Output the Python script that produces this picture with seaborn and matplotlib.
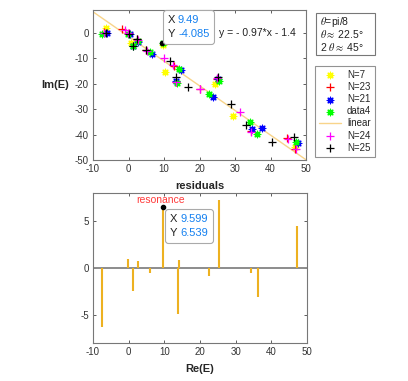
import numpy as np
import matplotlib
matplotlib.use("Agg")
import matplotlib.pyplot as plt
import seaborn as sns
from matplotlib.offsetbox import TextArea, HPacker, VPacker, AnnotationBbox
from matplotlib.patches import Rectangle

# Eigenvalue scatter (Re, Im) per series
n7_x = [-6.3, 0.8, 9.7, 10.3, 24.4, 29.4, 46.8]
n7_y = [2.1, -4.0, -4.6, -15.2, -20.1, -32.7, -45.0]

n23_x = [-7.0, -1.8, 0.2, 2.4, 5.0, 12.8, 13.4, 20.0, 25.0, 34.4, 44.6, 47.0]
n23_y = [0.2, 1.5, -0.2, -2.6, -6.8, -12.9, -19.4, -22.0, -18.0, -38.6, -41.4, -45.6]

n21_x = [-6.0, 0.3, 1.4, 2.8, 6.5, 14.8, 13.5, 23.9, 25.3, 34.8, 37.7, 47.8]
n21_y = [-0.2, -0.6, -5.0, -3.4, -8.3, -14.7, -19.0, -25.1, -18.3, -37.9, -37.5, -43.4]

data4_x = [-7.45, -0.1, 1.33, 2.55, 6.0, 9.6, 13.7, 14.1, 22.6, 25.4, 34.3, 36.3, 47.3]
data4_y = [-0.41, -0.35, -5.09, -3.13, -7.71, -4.17, -19.64, -14.24, -24.12, -18.78, -35.17, -39.7, -42.75]

n24_x = [-6.8, -1.0, -0.2, 2.6, 5.3, 10.0, 12.5, 13.3, 20.2, 25.0, 31.3, 34.5, 45.0, 47.1]
n24_y = [0.0, 1.0, 0.0, -2.9, -7.0, -9.8, -12.5, -19.5, -21.9, -17.6, -31.0, -38.8, -41.6, -45.8]

n25_x = [-6.3, 0.0, 1.2, 2.3, 4.8, 11.6, 13.5, 16.9, 25.1, 28.9, 33.0, 40.5, 46.5]
n25_y = [0.0, -0.4, -5.2, -2.5, -6.7, -11.1, -17.4, -21.4, -17.4, -27.8, -36.2, -42.8, -40.8]

# linear fit shown in the chart
fit_slope, fit_icpt = -0.97, -1.4
fit_range = [-10, 50]

# residuals of data4 against the fit
resid_x = data4_x
resid_y = [-6.24, 0.95, -2.4, 0.74, -0.49, 6.539, -4.95, 0.84, -0.8, 7.26, -0.5, -3.09, 4.53]

tip1 = (9.49, -4.085)
tip2 = (9.599, 6.539)

sns.set_style("ticks")
plt.rcParams["font.family"] = ["Liberation Sans", "DejaVu Sans"]
plt.rcParams["mathtext.fontset"] = "stix"
plt.rcParams["axes.unicode_minus"] = False

W, H = 408, 381
fig = plt.figure(figsize=(W / 100, H / 100), dpi=100)
ax1 = fig.add_axes([93 / W, 1 - 160 / H, 213 / W, 150 / H])
ax2 = fig.add_axes([93 / W, 1 - 343 / H, 214 / W, 150 / H])

ast = (8, 2, 0)
series = [
    ("N=7", n7_x, n7_y, "#FFFF00", ast),
    ("N=23", n23_x, n23_y, "#FF0000", "+"),
    ("N=21", n21_x, n21_y, "#0000FF", ast),
    ("data4", data4_x, data4_y, "#00FF00", ast),
]
for lab, xs, ys, col, mk in series:
    sns.scatterplot(x=xs, y=ys, marker=mk, color=col,
                    s=36 if mk == "+" else 22, linewidth=0.9,
                    label=lab, ax=ax1, zorder=3)

fx = np.array(fit_range, dtype=float)
sns.lineplot(x=fx, y=fit_slope * fx + fit_icpt, color="#F8D48A", linewidth=1,
             label="linear", ax=ax1, zorder=2)

for lab, xs, ys, col in [("N=24", n24_x, n24_y, "#FF00FF"),
                         ("N=25", n25_x, n25_y, "#000000")]:
    sns.scatterplot(x=xs, y=ys, marker="+", color=col, s=36, linewidth=0.9,
                    label=lab, ax=ax1, zorder=3)

ax1.plot(*tip1, "o", color="black", markersize=3, zorder=5)
ax1.text(25.5, 0, "y = - 0.97*x - 1.4", fontsize=7.5, va="center", ha="left",
         color="#222222")

ax1.set_xlim(-10, 50)
ax1.set_ylim(-50, 9)
ax1.set_xticks(range(-10, 51, 10))
ax1.set_yticks(range(-50, 1, 10))
ax1.set_ylabel("Im(E)", fontsize=8, fontweight="bold", rotation=0,
               ha="center", va="center")
ax1.yaxis.set_label_coords(-0.178, 0.5)

h, l = ax1.get_legend_handles_labels()
ax1.legend_.remove()
leg = fig.legend(h, l, loc="upper left", bbox_to_anchor=(315 / W, 1 - 66 / H),
                 fontsize=7, frameon=True, fancybox=False, edgecolor="#777777",
                 labelspacing=0.22, handlelength=2.3, borderpad=0.4,
                 handletextpad=0.6, borderaxespad=0)
leg.get_frame().set_linewidth(0.8)

# theta text box
fig.add_artist(Rectangle((316 / W, 1 - 55 / H), 59 / W, 42 / H,
                         transform=fig.transFigure, facecolor="white",
                         edgecolor="#777777", linewidth=0.8))
for i, s in enumerate([r"$\theta$=pi/8", r"$\theta\approx$ 22.5°", r"2 $\theta\approx$ 45°"]):
    fig.text(320 / W, 1 - (22 + 12.5 * i) / H, s, fontsize=7.5, va="center",
             ha="left", color="#222222")

# residual stems
ax2.axhline(0, color="#8c8c8c", linewidth=1.4, zorder=1)
ax2.vlines(resid_x, 0, resid_y, color="#EDB120", linewidth=1.5, zorder=2)
ax2.plot(*tip2, "o", color="black", markersize=3, zorder=5)
ax2.text(tip2[0] - 0.6, 7.3, "resonance", color="#FF3B3B", fontsize=7.5,
         ha="center", va="center")
ax2.set_xlim(-10, 50)
ax2.set_ylim(-8, 8)
ax2.set_xticks(range(-10, 51, 10))
ax2.set_yticks([-5, 0, 5])
ax2.set_title("residuals", fontsize=8, fontweight="bold", pad=3)
ax2.set_xlabel("Re(E)", fontsize=8, fontweight="bold", labelpad=5)


def datatip(ax, xy, align, offset):
    rows = []
    for name, val in [("X", xy[0]), ("Y", xy[1])]:
        rows.append(HPacker(children=[
            TextArea(name, textprops=dict(fontsize=8, color="#222222")),
            TextArea(f"{val:g}", textprops=dict(fontsize=8, color="#1480F0"))],
            align="baseline", pad=0, sep=2))
    box = VPacker(children=rows, align="left", pad=0, sep=3)
    ab = AnnotationBbox(box, xy, xybox=offset, boxcoords="offset points",
                        box_alignment=align, frameon=True, pad=0.35,
                        annotation_clip=False,
                        bboxprops=dict(boxstyle="round,pad=0.35,rounding_size=0.2",
                                       edgecolor="#aaaaaa", facecolor="white",
                                       linewidth=0.8))
    ab.set_zorder(10)
    ax.add_artist(ab)


datatip(ax1, tip1, (0, 0), (4, 3))
datatip(ax2, tip2, (0, 1), (5, -5))

for ax in (ax1, ax2):
    ax.tick_params(direction="in", length=2.5, width=0.6, labelsize=7,
                   colors="#444444", labelcolor="#333333", top=True, right=True,
                   pad=3)
    for sp in ax.spines.values():
        sp.set_visible(True)
        sp.set_color("#777777")
        sp.set_linewidth(0.8)
    ax.set_facecolor("white")

fig.savefig("out.png", dpi=100, facecolor="white")
